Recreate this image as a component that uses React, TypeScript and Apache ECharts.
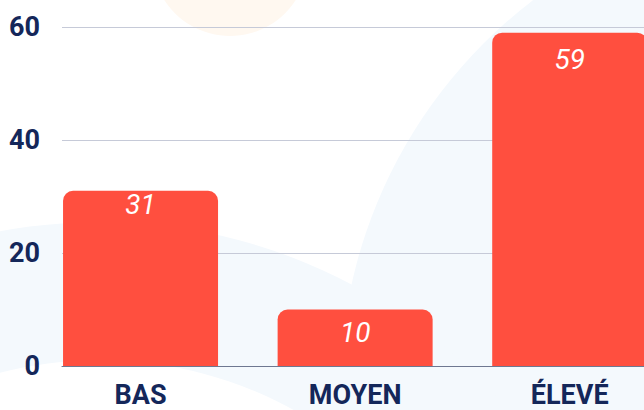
import React, { useEffect, useRef } from "react";
import * as echarts from "echarts";

const categories = ["BAS", "MOYEN", "ÉLEVÉ"];
const values = [31, 10, 59];
const labelOffsets = [0, 9, 13];
const yTicks = [0, 20, 40, 60];

const NAVY = "#14275A";
const BAR = "#FF4F3F";

const CHART_W = 677;

export default function App() {
  const ref = useRef<HTMLDivElement>(null);
  useEffect(() => {
    if (!ref.current) return;
    const chart = echarts.init(ref.current, null, { renderer: "svg" });
    const yMin = yTicks[0];
    const yMax = yTicks[yTicks.length - 1];
    const yInt = yTicks[1] - yTicks[0];
    chart.setOption({
      animation: false,
      backgroundColor: "#ffffff",
      graphic: [
        {
          type: "circle",
          z: -10,
          silent: true,
          shape: { cx: 230, cy: -42, r: 78 },
          style: { fill: "#FFF8F0" },
        },
        {
          type: "circle",
          z: -10,
          silent: true,
          shape: { cx: 830, cy: 390, r: 490 },
          style: { fill: "#F4F9FD" },
        },
        {
          type: "ring",
          z: -10,
          silent: true,
          shape: { cx: 100, cy: 760, r: 538, r0: 400 },
          style: { fill: "#F4F9FD" },
        },
      ],
      grid: [
        { left: 62, right: CHART_W - 644, top: 27, bottom: 44 },
        { left: 33.25, right: 0, top: 27, bottom: 44 },
      ],
      xAxis: [
        {
          gridIndex: 0,
          type: "category",
          data: categories,
          axisLine: { show: true, lineStyle: { color: "#6E7891", width: 1 } },
          axisTick: { show: false },
          axisLabel: { show: false },
          splitLine: { show: false },
          z: 5,
        },
        {
          gridIndex: 1,
          type: "category",
          data: categories,
          axisLine: { show: false },
          axisTick: { show: false },
          splitLine: { show: false },
          axisLabel: {
            color: NAVY,
            fontFamily: "Roboto",
            fontWeight: "bold",
            fontSize: 27,
            margin: 15,
          },
        },
      ],
      yAxis: [
        {
          gridIndex: 0,
          type: "value",
          min: yMin,
          max: yMax,
          interval: yInt,
          axisLine: { show: false },
          axisTick: { show: false },
          splitLine: { lineStyle: { color: "#C6CAD8", width: 1 } },
          axisLabel: {
            color: NAVY,
            fontFamily: "Roboto",
            fontWeight: "bold",
            fontSize: 27,
            margin: 22,
          },
        },
        {
          gridIndex: 1,
          type: "value",
          min: yMin,
          max: yMax,
          interval: yInt,
          show: false,
          splitLine: { show: false },
        },
      ],
      series: [
        {
          type: "bar",
          xAxisIndex: 1,
          yAxisIndex: 1,
          barWidth: 155,
          data: values.map((v, i) => ({
            value: v,
            label: { distance: labelOffsets[i] },
          })),
          itemStyle: { color: BAR, borderRadius: [10, 10, 0, 0] },
          label: {
            show: true,
            position: "insideTop",
            color: "#ffffff",
            fontFamily: "Roboto",
            fontStyle: "italic",
            fontSize: 28,
          },
        },
      ],
    });
    return () => chart.dispose();
  }, []);
  return (
    <div style={{ position: "fixed", left: 0, top: 0, width: 644, height: 410, overflow: "hidden" }}>
      <div ref={ref} style={{ width: CHART_W, height: 410 }} />
    </div>
  );
}
